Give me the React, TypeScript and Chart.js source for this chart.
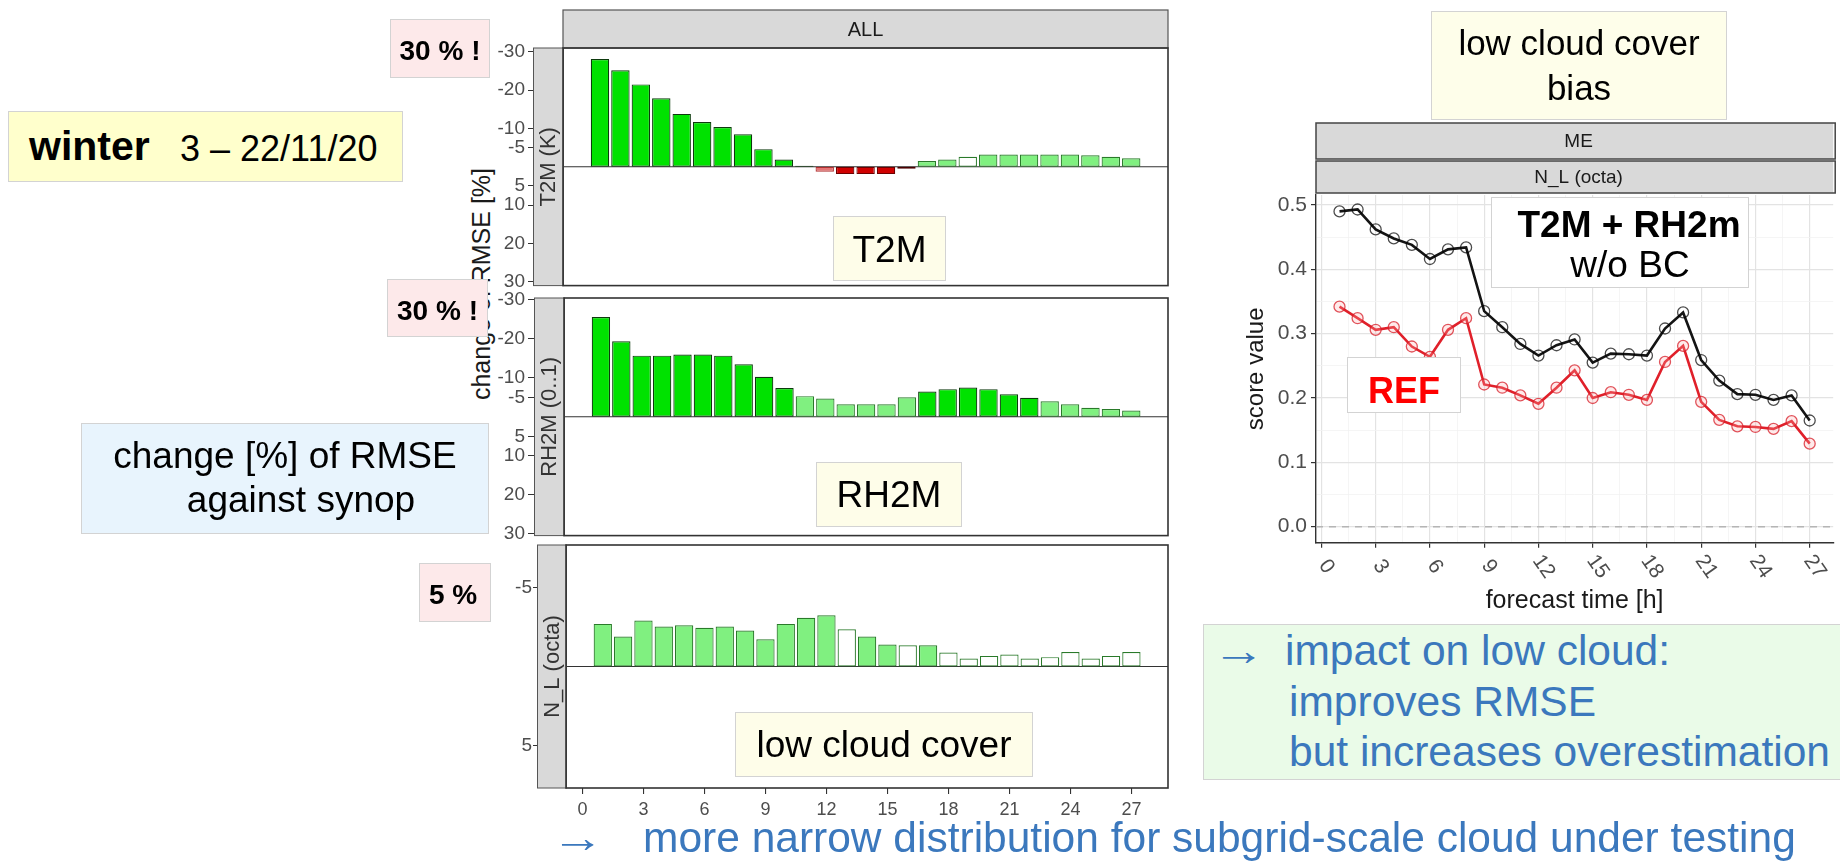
import React, { useEffect, useRef } from "react";
import { Chart, registerables } from "chart.js";

Chart.register(...registerables);

const SANS = '"Liberation Sans", Arial, Helvetica, sans-serif';

// lead times [h] of the verified forecasts
const leadHours = [1, 2, 3, 4, 5, 6, 7, 8, 9, 10, 11, 12, 13, 14, 15, 16, 17, 18, 19, 20, 21, 22, 23, 24, 25, 26, 27];
const axisHours = [0, 3, 6, 9, 12, 15, 18, 21, 24, 27];
const minorHours = [1.5, 4.5, 7.5, 10.5, 13.5, 16.5, 19.5, 22.5, 25.5];

// change [%] of RMSE against synop (negative = improvement)
const t2mRmseChange = [-28.1, -25.2, -21.5, -17.9, -13.8, -11.7, -10.4, -8.5, -4.6, -1.9, -0.3, 1.3, 1.9, 1.9, 1.9, 0.5, -1.5, -1.9, -2.6, -3.2, -3.2, -3.2, -3.2, -3.2, -3.0, -2.6, -2.2];
const rh2mRmseChange = [-25.6, -19.4, -15.7, -15.7, -16.0, -16.0, -15.7, -13.5, -10.3, -7.4, -5.3, -4.7, -3.2, -3.2, -3.2, -5.0, -6.5, -7.1, -7.5, -7.1, -5.8, -4.9, -4.0, -3.2, -2.3, -2.0, -1.6];
const nlRmseChange = [-2.69, -1.89, -2.90, -2.52, -2.60, -2.44, -2.52, -2.27, -1.72, -2.69, -3.07, -3.24, -2.35, -1.89, -1.39, -1.34, -1.34, -0.88, -0.50, -0.67, -0.76, -0.50, -0.59, -0.92, -0.50, -0.67, -0.92];

// significance class per bar: G strong gain, g weak gain, w neutral, r/R/D loss
const t2mSignif = "GGGGGGGGGGGrRRRDggwgggggggg";
const rh2mSignif = "GGGGGGGGGGggggggGGGGGGggggg";
const nlSignif = "ggggggggggggwggwgwwwwwwwwww";

// y-axis ticks of the three panels
const t2mTicks = [-30, -20, -10, -5, 5, 10, 20, 30];
const rh2mTicks = [-30, -20, -10, -5, 5, 10, 20, 30];
const nlTicks = [-5, 5];

// mean error of low cloud cover N_L (octa)
const meNoBiasCorr = [0.490, 0.493, 0.462, 0.448, 0.438, 0.416, 0.431, 0.434, 0.335, 0.310, 0.284, 0.266, 0.282, 0.291, 0.255, 0.269, 0.268, 0.266, 0.308, 0.333, 0.259, 0.227, 0.206, 0.205, 0.197, 0.204, 0.165];
const meReference = [0.342, 0.324, 0.306, 0.310, 0.280, 0.264, 0.306, 0.324, 0.221, 0.216, 0.204, 0.191, 0.216, 0.243, 0.200, 0.209, 0.205, 0.197, 0.256, 0.281, 0.194, 0.166, 0.156, 0.155, 0.152, 0.164, 0.129];
const scoreTicks = [0, 0.05, 0.1, 0.15, 0.2, 0.25, 0.3, 0.35, 0.4, 0.45, 0.5];

const FILL: Record<string, string> = { G: "#00e200", g: "#80f080", w: "#ffffff", R: "#d00000", r: "#e57575", D: "#8a0000" };
const EDGE: Record<string, string> = { G: "#0d3a0d", g: "#2a7a2a", w: "#2a7a2a", R: "#6e0000", r: "#b03030", D: "#4a0000" };

const panelDecor = {
  id: "panelDecor",
  beforeDatasetsDraw(chart: any) {
    const { ctx, chartArea: a, scales } = chart;
    const y0 = scales.y.getPixelForValue(0);
    ctx.save();
    ctx.strokeStyle = "#333";
    ctx.lineWidth = 1.1;
    ctx.beginPath();
    ctx.moveTo(a.left, y0);
    ctx.lineTo(a.right, y0);
    ctx.stroke();
    ctx.restore();
  },
  afterDraw(chart: any, _args: any, opts: any) {
    const { ctx, chartArea: a } = chart;
    const h = a.bottom - a.top;
    ctx.save();
    ctx.fillStyle = "#d9d9d9";
    ctx.fillRect(a.left - opts.stripWidth, a.top, opts.stripWidth, h);
    ctx.strokeStyle = "#555";
    ctx.lineWidth = 1;
    ctx.strokeRect(a.left - opts.stripWidth + 0.5, a.top, opts.stripWidth, h);
    ctx.translate(a.left - opts.stripWidth / 2, (a.top + a.bottom) / 2);
    ctx.rotate(-Math.PI / 2);
    ctx.fillStyle = "#333";
    ctx.font = `22px ${SANS}`;
    ctx.textAlign = "center";
    ctx.textBaseline = "middle";
    ctx.fillText(opts.strip, 0, 1);
    ctx.restore();
    if (opts.header) {
      ctx.save();
      ctx.fillStyle = "#d9d9d9";
      ctx.fillRect(a.left, a.top - 38, a.right - a.left, 38);
      ctx.strokeStyle = "#555";
      ctx.lineWidth = 1.2;
      ctx.strokeRect(a.left, a.top - 38, a.right - a.left, 38);
      ctx.fillStyle = "#1a1a1a";
      ctx.font = `20px ${SANS}`;
      ctx.textAlign = "center";
      ctx.textBaseline = "middle";
      ctx.fillText(opts.header, (a.left + a.right) / 2, a.top - 18);
      ctx.restore();
    }
    ctx.save();
    ctx.strokeStyle = "#333";
    ctx.lineWidth = 1.6;
    ctx.strokeRect(a.left, a.top, a.right - a.left, h);
    ctx.restore();
  },
};

type PanelProps = {
  left: number; top: number; width: number; height: number;
  axisWidth: number; padTop: number; padBottom: number; padRight: number;
  tickLen: number; tickPad: number; stripWidth: number;
  values: number[]; signif: string; yLim: number; yTicks: number[];
  strip: string; header?: string; showHours?: boolean;
};

function BarPanel(p: PanelProps) {
  const ref = useRef<HTMLCanvasElement>(null);
  useEffect(() => {
    const keys = p.signif.split("");
    const chart = new Chart(ref.current as HTMLCanvasElement, {
      type: "bar",
      data: {
        datasets: [
          {
            data: leadHours.map((h, i) => ({ x: h, y: p.values[i] })),
            backgroundColor: keys.map((k) => FILL[k]),
            borderColor: keys.map((k) => EDGE[k]),
            borderWidth: 1.2,
            borderSkipped: false,
            barPercentage: 0.9,
            categoryPercentage: 1,
          },
        ],
      },
      options: {
        animation: false,
        responsive: false,
        maintainAspectRatio: false,
        events: [],
        layout: { padding: { left: 0, top: p.padTop, right: p.padRight, bottom: p.padBottom } },
        plugins: {
          legend: { display: false },
          tooltip: { enabled: false },
          panelDecor: { strip: p.strip, header: p.header, stripWidth: p.stripWidth },
        } as any,
        scales: {
          x: {
            type: "linear",
            min: -0.81,
            max: 28.8,
            offset: false,
            display: !!p.showHours,
            afterBuildTicks: (s: any) => { s.ticks = axisHours.map((v) => ({ value: v })); },
            afterFit: (s: any) => { s.height = p.showHours ? 42 : 0; },
            grid: { drawOnChartArea: false, offset: false, tickLength: 6, color: "#333", lineWidth: 1.1 },
            border: { display: false },
            ticks: { font: { family: SANS, size: 18 }, color: "#4d4d4d", padding: 5, maxRotation: 0, autoSkip: false, callback: (v: any) => String(v) },
          },
          y: {
            type: "linear",
            reverse: true,
            min: -p.yLim,
            max: p.yLim,
            afterBuildTicks: (s: any) => { s.ticks = p.yTicks.map((v) => ({ value: v })); },
            afterFit: (s: any) => { s.width = p.axisWidth; },
            grid: { drawOnChartArea: false, tickLength: p.tickLen, color: "#333", lineWidth: 1.1 },
            border: { display: false },
            ticks: { font: { family: SANS, size: 19 }, color: "#4d4d4d", padding: p.tickPad, callback: (v: any) => String(v) },
          },
        },
      } as any,
      plugins: [panelDecor],
    });
    return () => chart.destroy();
  }, []);
  return (
    <canvas
      ref={ref}
      width={p.width}
      height={p.height}
      style={{ position: "absolute", left: p.left, top: p.top, width: p.width, height: p.height }}
    />
  );
}

const isMajorHour = (v: number) => Math.abs(v / 3 - Math.round(v / 3)) < 1e-6;
const isMajorScore = (v: number) => Math.abs(v * 10 - Math.round(v * 10)) < 1e-6;

const facetDecor = {
  id: "facetDecor",
  beforeDatasetsDraw(chart: any) {
    const { ctx, chartArea: a, scales } = chart;
    const y0 = scales.y.getPixelForValue(0);
    ctx.save();
    ctx.strokeStyle = "#b5b5b5";
    ctx.lineWidth = 1.5;
    ctx.setLineDash([7, 6]);
    ctx.beginPath();
    ctx.moveTo(a.left, y0);
    ctx.lineTo(a.right, y0);
    ctx.stroke();
    ctx.restore();
  },
  afterDraw(chart: any) {
    const { ctx, chartArea: a, scales } = chart;
    const strips = [
      { text: "ME", top: a.top - 72, h: 36 },
      { text: "N_L (octa)", top: a.top - 34, h: 32 },
    ];
    ctx.save();
    for (const s of strips) {
      ctx.fillStyle = "#d9d9d9";
      ctx.fillRect(a.left, s.top, a.right - a.left, s.h);
      ctx.strokeStyle = "#444";
      ctx.lineWidth = 1.5;
      ctx.strokeRect(a.left, s.top, a.right - a.left + 2, s.h);
      ctx.fillStyle = "#1a1a1a";
      ctx.font = `19px ${SANS}`;
      ctx.textAlign = "center";
      ctx.textBaseline = "middle";
      ctx.fillText(s.text, (a.left + a.right) / 2 + 4, s.top + s.h / 2 + 1);
    }
    ctx.restore();
    // slanted hour labels
    ctx.save();
    ctx.fillStyle = "#4d4d4d";
    ctx.font = `21px ${SANS}`;
    ctx.textAlign = "center";
    ctx.textBaseline = "middle";
    for (const v of axisHours) {
      const px = scales.x.getPixelForValue(v);
      ctx.save();
      ctx.translate(px + 5, a.bottom + 24);
      ctx.rotate((55 * Math.PI) / 180);
      ctx.fillText(String(v), 0, 0);
      ctx.restore();
    }
    ctx.restore();
  },
};

function ScoreChart() {
  const ref = useRef<HTMLCanvasElement>(null);
  useEffect(() => {
    const pts = (vals: number[]) => leadHours.map((h, i) => ({ x: h, y: vals[i] }));
    const chart = new Chart(ref.current as HTMLCanvasElement, {
      type: "line",
      data: {
        datasets: [
          {
            label: "REF",
            data: pts(meReference),
            borderColor: "#e0202a",
            borderWidth: 2.6,
            pointRadius: 5.5,
            pointBorderWidth: 1.3,
            pointBorderColor: "rgba(215,30,40,0.75)",
            pointBackgroundColor: "rgba(255,170,170,0.25)",
            tension: 0,
          },
          {
            label: "T2M + RH2m w/o BC",
            data: pts(meNoBiasCorr),
            borderColor: "#141414",
            borderWidth: 2.6,
            pointRadius: 5.5,
            pointBorderWidth: 1.3,
            pointBorderColor: "rgba(0,0,0,0.7)",
            pointBackgroundColor: "rgba(255,255,255,0)",
            tension: 0,
          },
        ],
      },
      options: {
        animation: false,
        responsive: false,
        maintainAspectRatio: false,
        events: [],
        layout: { padding: { left: 0, top: 85, right: 0, bottom: 0 } },
        plugins: { legend: { display: false }, tooltip: { enabled: false } },
        scales: {
          x: {
            type: "linear",
            min: -0.3,
            max: 28.3,
            afterBuildTicks: (s: any) => {
              s.ticks = [...axisHours, ...minorHours].sort((a, b) => a - b).map((v) => ({ value: v }));
            },
            afterFit: (s: any) => { s.height = 92.3; },
            grid: {
              color: (c: any) => (isMajorHour(c.tick.value) ? "#e3e3e3" : "#f2f2f2"),
              lineWidth: (c: any) => (isMajorHour(c.tick.value) ? 1.2 : 0.8),
              tickLength: 5,
              tickColor: (c: any) => (isMajorHour(c.tick.value) ? "#333" : "rgba(0,0,0,0)"),
              tickWidth: 1.2,
            },
            border: { display: true, color: "#333", width: 1.4 },
            ticks: { display: false },
            title: {
              display: true,
              text: "forecast time [h]",
              font: { family: SANS, size: 25 },
              color: "#1a1a1a",
              padding: { top: 0, bottom: 19 },
            },
          },
          y: {
            type: "linear",
            min: -0.0249,
            max: 0.5155,
            afterBuildTicks: (s: any) => { s.ticks = scoreTicks.map((v) => ({ value: v })); },
            afterFit: (s: any) => { s.width = 126; },
            grid: {
              color: (c: any) => (isMajorScore(c.tick.value) ? "#e3e3e3" : "#f2f2f2"),
              lineWidth: (c: any) => (isMajorScore(c.tick.value) ? 1.2 : 0.8),
              tickLength: 5,
              tickColor: (c: any) => (isMajorScore(c.tick.value) ? "#333" : "rgba(0,0,0,0)"),
              tickWidth: 1.2,
            },
            border: { display: true, color: "#333", width: 1.4 },
            ticks: {
              font: { family: SANS, size: 21 },
              color: "#4d4d4d",
              padding: 4,
              autoSkip: false,
              callback: (v: any) => (isMajorScore(v) ? Number(v).toFixed(1) : ""),
            },
            title: {
              display: true,
              text: "score value",
              font: { family: SANS, size: 24 },
              color: "#1a1a1a",
              padding: { top: 51.6, bottom: 0 },
            },
          },
        },
      } as any,
      plugins: [facetDecor],
    });
    return () => chart.destroy();
  }, []);
  return (
    <canvas
      ref={ref}
      width={650}
      height={525}
      style={{ position: "absolute", left: 1190, top: 110, width: 650, height: 525 }}
    />
  );
}

function Box({ x, y, w, h, bg }: { x: number; y: number; w: number; h: number; bg: string }) {
  return (
    <div
      style={{
        position: "absolute", left: x, top: y, width: w, height: h, background: bg,
        border: "1.5px solid #d3d3d3", boxSizing: "border-box",
      }}
    />
  );
}

type TxtProps = { x: number; y: number; size: number; text: string; center?: boolean; bold?: boolean; color?: string; stretch?: number };

function Txt({ x, y, size, text, center, bold, color = "#000", stretch }: TxtProps) {
  const style: React.CSSProperties = {
    position: "absolute",
    top: y - 0.8465 * size,
    fontSize: size,
    lineHeight: `${size}px`,
    whiteSpace: "pre",
    fontWeight: bold ? 700 : 400,
    color,
  };
  if (stretch) {
    style.transform = `scaleX(${stretch})`;
    style.transformOrigin = "left center";
  }
  if (center) {
    style.left = x - 600;
    style.width = 1200;
    style.textAlign = "center";
  } else {
    style.left = x;
  }
  return <div style={style}>{text}</div>;
}

const BLUE = "#3b78bd";

export default function App() {
  return (
    <div
      style={{
        position: "absolute", left: 0, top: 0, width: 1840, height: 863,
        overflow: "hidden", background: "#fff", fontFamily: SANS,
      }}
    >
      <div
        style={{
          position: "absolute", left: 481 - 160, top: 284 - 15, width: 320, height: 30,
          lineHeight: "30px", textAlign: "center", fontSize: 25, color: "#1a1a1a",
          transform: "rotate(-90deg)", whiteSpace: "nowrap",
        }}
      >
        change of RMSE [%]
      </div>

      <BarPanel left={440} top={0} width={740} height={300} axisWidth={123} padTop={48} padBottom={10} padRight={12}
        tickLen={35} tickPad={3} stripWidth={30} values={t2mRmseChange} signif={t2mSignif} yLim={31}
        yTicks={t2mTicks} strip="T2M (K)" header="ALL" />
      <BarPanel left={440} top={280} width={740} height={270} axisWidth={124} padTop={18} padBottom={12} padRight={12}
        tickLen={36} tickPad={3} stripWidth={30} values={rh2mRmseChange} signif={rh2mSignif} yLim={30.5}
        yTicks={rh2mTicks} strip="RH2M (0..1)" />
      <BarPanel left={440} top={530} width={740} height={300} axisWidth={126} padTop={15} padBottom={0} padRight={12}
        tickLen={33} tickPad={1} stripWidth={29} values={nlRmseChange} signif={nlSignif} yLim={7.67}
        yTicks={nlTicks} strip="N_L (octa)" showHours />

      <ScoreChart />

      <Box x={390} y={19} w={100} h={59} bg="#fde9ea" />
      <Txt x={440} y={60.5} size={28} bold center text="30 % !" />
      <Box x={387} y={279} w={101} h={58} bg="#fde9ea" />
      <Txt x={437.5} y={321} size={28} bold center text="30 % !" />
      <Box x={419} y={563} w={72} h={59} bg="#fde9ea" />
      <Txt x={453} y={605} size={28} bold center text="5 %" />

      <Box x={8} y={111} w={395} h={71} bg="#ffffcc" />
      <Txt x={29} y={161} size={41} bold text="winter" />
      <Txt x={180} y={161} size={36} text="3 – 22/11/20" />

      <Box x={81} y={423} w={408} h={111} bg="#e8f4fd" />
      <Txt x={285} y={468} size={37} center text="change [%] of RMSE" />
      <Txt x={301} y={512} size={37} center text="against synop" />

      <Box x={833} y={216} w={113} h={65} bg="#fefde9" />
      <Txt x={889.5} y={262} size={37} center text="T2M" />
      <Box x={816} y={462} w={146} h={65} bg="#fefde9" />
      <Txt x={889} y={507} size={37} center text="RH2M" />
      <Box x={735} y={712} w={298} h={65} bg="#fefde9" />
      <Txt x={884} y={757} size={37} center text="low cloud cover" />

      <Box x={1431} y={11} w={296} h={109} bg="#fefeea" />
      <Txt x={1579} y={55} size={35} center text="low cloud cover" />
      <Txt x={1579} y={100} size={35} center text="bias" />

      <Box x={1491} y={197} w={258} h={91} bg="#ffffff" />
      <Txt x={1629} y={237} size={37} bold center text="T2M + RH2m" />
      <Txt x={1630} y={277} size={37} center text="w/o BC" />

      <Box x={1347} y={357} w={114} h={56} bg="#ffffff" />
      <Txt x={1404} y={403} size={36} bold center color="#ff0000" text="REF" />

      <Box x={1203} y={624} w={645} h={156} bg="#eafbe8" />
      <Txt x={1212} y={666} size={42.5} color={BLUE} stretch={1.25} text="→" />
      <Txt x={1285} y={666} size={42.5} color={BLUE} text="impact on low cloud:" />
      <Txt x={1289} y={717} size={42.5} color={BLUE} text="improves RMSE" />
      <Txt x={1289} y={767} size={42.5} color={BLUE} text="but increases overestimation" />

      <Txt x={551} y={853} size={42.5} color={BLUE} stretch={1.25} text="→" />
      <Txt x={643} y={853} size={42.5} color={BLUE} text="more narrow distribution for subgrid-scale cloud under testing" />
    </div>
  );
}
